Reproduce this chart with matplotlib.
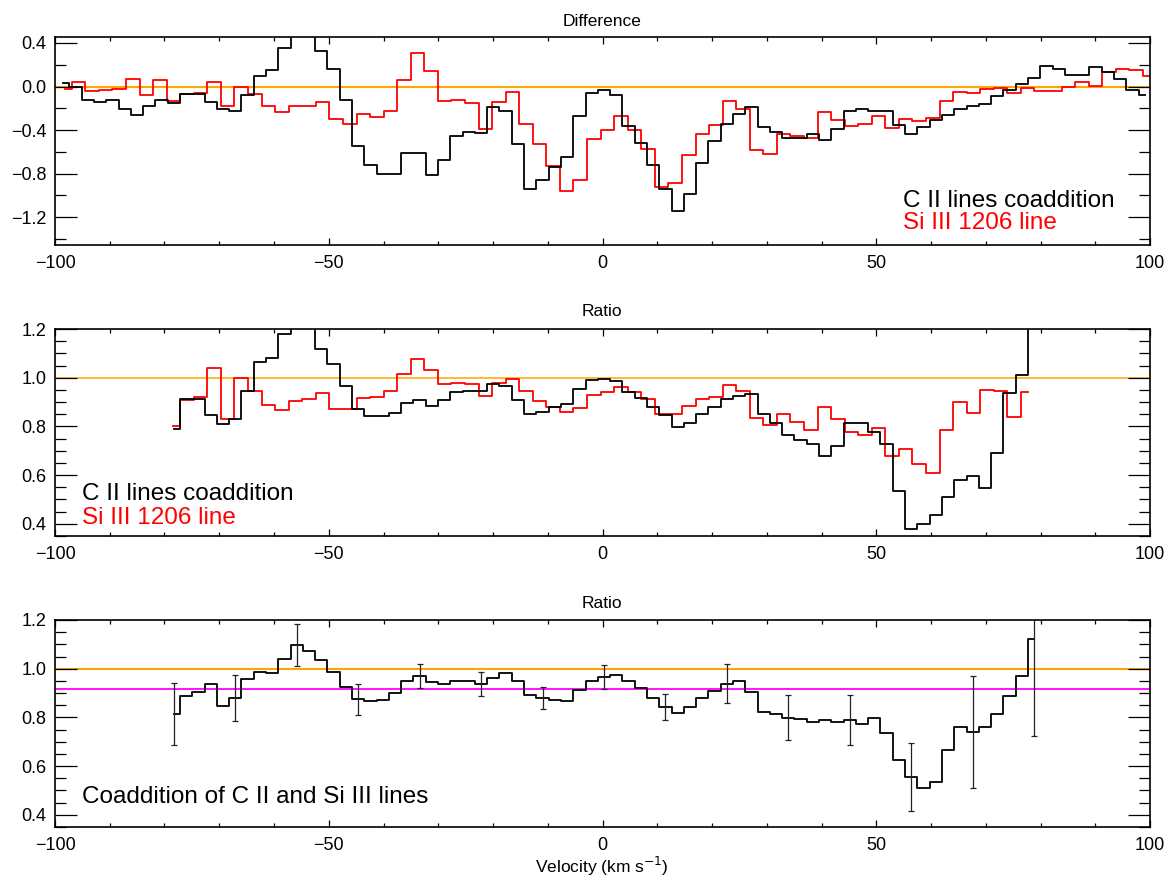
import numpy as np
import matplotlib
matplotlib.use('Agg')
import matplotlib.pyplot as plt
from matplotlib.ticker import MultipleLocator, FuncFormatter

plt.rcParams['font.family'] = ['Liberation Sans', 'DejaVu Sans']

# ---------------- data ----------------
# velocity grids (bin centres, km/s)
V0_CII, DV_CII = -98.50, 2.2447
V0_SI, DV_SI = -98.18, 2.4767

diff_cii = [0.03, 0.0, -0.12, -0.14, -0.12, -0.21, -0.26, -0.18, -0.12, -0.15,
            -0.07, -0.07, -0.14, -0.21, -0.22, -0.08, 0.10, 0.15, 0.35, 0.55,
            0.55, 0.33, 0.16, -0.12, -0.55, -0.72, -0.80, -0.80, -0.61, -0.61,
            -0.81, -0.67, -0.45, -0.42, -0.43, -0.19, -0.22, -0.53, -0.94, -0.86,
            -0.74, -0.65, -0.27, -0.06, -0.03, -0.08, -0.36, -0.52, -0.72, -0.94,
            -1.14, -0.99, -0.70, -0.50, -0.34, -0.25, -0.19, -0.37, -0.42, -0.47,
            -0.47, -0.44, -0.49, -0.39, -0.22, -0.21, -0.22, -0.22, -0.35, -0.44,
            -0.37, -0.31, -0.26, -0.21, -0.18, -0.16, -0.09, -0.03, 0.02, 0.08,
            0.19, 0.16, 0.11, 0.11, 0.18, 0.13, 0.07, -0.03, -0.08]

diff_si = [-0.02, 0.04, -0.04, -0.03, -0.025, 0.07, -0.08, 0.06, -0.13, -0.07,
           -0.055, 0.04, -0.18, 0.0, -0.07, -0.18, -0.23, -0.18, -0.18, -0.14,
           -0.30, -0.34, -0.25, -0.28, -0.22, 0.06, 0.31, 0.14, -0.13, -0.12,
           -0.15, -0.39, -0.14, -0.05, -0.34, -0.53, -0.73, -0.96, -0.86, -0.48,
           -0.40, -0.27, -0.40, -0.57, -0.92, -0.89, -0.63, -0.44, -0.35, -0.13,
           -0.21, -0.58, -0.62, -0.44, -0.45, -0.47, -0.23, -0.31, -0.36, -0.34,
           -0.27, -0.38, -0.30, -0.32, -0.29, -0.13, -0.05, -0.06, -0.025, -0.015,
           -0.055, -0.015, -0.04, -0.04, 0.0, 0.04, 0.005, 0.13, 0.16, 0.15, 0.10]

RATIO_CII_START = 9
ratio_cii = [0.788, 0.913, 0.911, 0.847, 0.809, 0.829, 0.945, 1.066, 1.082, 1.179,
             1.30, 1.28, 1.117, 1.055, 0.966, 0.870, 0.844, 0.844, 0.857, 0.898,
             0.908, 0.884, 0.908, 0.940, 0.945, 0.945, 0.974, 0.967, 0.908, 0.851,
             0.861, 0.878, 0.891, 0.954, 0.990, 0.995, 0.988, 0.943, 0.915, 0.878,
             0.847, 0.799, 0.813, 0.851, 0.881, 0.913, 0.925, 0.933, 0.851, 0.813,
             0.765, 0.745, 0.727, 0.680, 0.720, 0.816, 0.816, 0.775, 0.727, 0.533,
             0.378, 0.400, 0.437, 0.510, 0.581, 0.598, 0.546, 0.690, 0.939, 1.011,
             1.35]

RATIO_SI_START = 8
ratio_si = [0.800, 0.908, 0.922, 1.038, 0.829, 1.000, 0.945, 0.888, 0.867, 0.904,
            0.911, 0.936, 0.870, 0.870, 0.915, 0.919, 0.945, 1.014, 1.075, 1.031,
            0.973, 0.977, 0.973, 0.925, 0.977, 0.993, 0.945, 0.906, 0.878, 0.861,
            0.874, 0.929, 0.943, 0.960, 0.943, 0.911, 0.850, 0.850, 0.884, 0.911,
            0.922, 0.970, 0.945, 0.833, 0.806, 0.850, 0.820, 0.786, 0.878, 0.829,
            0.775, 0.765, 0.795, 0.680, 0.708, 0.645, 0.608, 0.786, 0.899, 0.857,
            0.949, 0.945, 0.840, 0.943]

COADD_START = 9
coadd = [0.813, 0.888, 0.904, 0.939, 0.846, 0.880, 0.956, 0.986, 0.984, 1.038,
         1.098, 1.072, 1.037, 0.986, 0.925, 0.874, 0.866, 0.873, 0.900, 0.950,
         0.970, 0.945, 0.936, 0.950, 0.950, 0.936, 0.962, 0.982, 0.948, 0.891,
         0.880, 0.870, 0.868, 0.911, 0.948, 0.966, 0.975, 0.948, 0.921, 0.880,
         0.843, 0.820, 0.843, 0.881, 0.909, 0.939, 0.948, 0.904, 0.823, 0.813,
         0.799, 0.793, 0.780, 0.789, 0.780, 0.789, 0.772, 0.798, 0.737, 0.625,
         0.554, 0.512, 0.536, 0.668, 0.759, 0.739, 0.761, 0.812, 0.887, 0.970,
         1.123]
ERR_EVERY = 5
coadd_err = [0.127, 0.095, 0.087, 0.064, 0.049, 0.049, 0.046, 0.051, 0.054, 0.080,
             0.091, 0.103, 0.139, 0.229, 0.40]
MEAN_RATIO = 0.918

# ---------------- figure ----------------
W, H = 1168, 877
fig = plt.figure(figsize=(W / 100, H / 100), dpi=100)


def rect(top, bottom, left=55, right=1150):
    return [left / W, 1 - bottom / H, (right - left) / W, (bottom - top) / H]


def grid(v0, dv, start, n):
    return v0 + dv * (start + np.arange(n))


fmt1 = FuncFormatter(lambda v, p: ('%.1f' % v).replace('-', '\u2212'))
fmt0 = FuncFormatter(lambda v, p: ('%d' % round(v)).replace('-', '\u2212'))


def style(ax, ymajor, yminor):
    ax.set_xlim(-100, 100)
    ax.xaxis.set_major_locator(MultipleLocator(50))
    ax.xaxis.set_minor_locator(MultipleLocator(10))
    ax.yaxis.set_major_locator(MultipleLocator(ymajor))
    ax.yaxis.set_minor_locator(MultipleLocator(yminor))
    ax.xaxis.set_major_formatter(fmt0)
    ax.yaxis.set_major_formatter(fmt1)
    ax.tick_params(axis='both', which='both', direction='in', top=True, right=True,
                   labelsize=13, width=0.9, colors='black')
    ax.tick_params(axis='y', which='major', length=16, pad=6)
    ax.tick_params(axis='y', which='minor', length=8)
    ax.tick_params(axis='x', which='major', length=5, pad=7)
    ax.tick_params(axis='x', which='minor', length=3)
    for s in ax.spines.values():
        s.set_linewidth(1.2)


ORANGE = '#FFA500'
RED = '#FF0000'
LW = 1.3

# Top: difference
ax1 = fig.add_axes(rect(37, 245))
ax1.axhline(0.0, color=ORANGE, lw=1.5, zorder=1)
ax1.step(grid(V0_CII, DV_CII, 0, len(diff_cii)), diff_cii, where='mid', color='black', lw=LW, zorder=3)
ax1.step(grid(V0_SI, DV_SI, 0, len(diff_si)), diff_si, where='mid', color=RED, lw=LW, zorder=2)
ax1.set_ylim(-1.455, 0.455)
style(ax1, 0.4, 0.2)

# Middle: ratio
ax2 = fig.add_axes(rect(329, 536))
ax2.axhline(1.0, color=ORANGE, lw=1.1, zorder=1)
ax2.step(grid(V0_CII, DV_CII, RATIO_CII_START, len(ratio_cii)), ratio_cii, where='mid', color='black', lw=LW, zorder=3)
ax2.step(grid(V0_SI, DV_SI, RATIO_SI_START, len(ratio_si)), ratio_si, where='mid', color=RED, lw=LW, zorder=2)
ax2.set_ylim(0.35, 1.2)
style(ax2, 0.2, 0.05)

# Bottom: coadded ratio
ax3 = fig.add_axes(rect(620, 827))
ax3.axhline(1.0, color=ORANGE, lw=1.5, zorder=1)
ax3.axhline(MEAN_RATIO, color='#FF00FF', lw=1.3, zorder=1)
vc = grid(V0_CII, DV_CII, COADD_START, len(coadd))
ax3.step(vc, coadd, where='mid', color='black', lw=LW, zorder=3)
ax3.errorbar(vc[::ERR_EVERY], np.array(coadd)[::ERR_EVERY], yerr=coadd_err, fmt='none',
             ecolor='#222222', elinewidth=0.9, capsize=2, capthick=0.9, zorder=4)
ax3.set_ylim(0.35, 1.2)
style(ax3, 0.2, 0.05)


def ftext(x, y, s, **kw):
    fig.text(x / W, 1 - y / H, s, **kw)


ftext(602, 21, 'Difference', ha='center', va='center', fontsize=12.5)
ftext(602, 312, 'Ratio', ha='center', va='center', fontsize=12.5)
ftext(602, 603, 'Ratio', ha='center', va='center', fontsize=12.5)
ftext(602, 866, 'Velocity (km s$^{\u2212 1}$)', ha='center', va='center', fontsize=12.5)

LEG = 17.5
ftext(903, 207, 'C II lines coaddition', ha='left', va='baseline', fontsize=LEG, color='black')
ftext(903, 229, 'Si III 1206 line', ha='left', va='baseline', fontsize=LEG, color=RED)
ftext(82, 500, 'C II lines coaddition', ha='left', va='baseline', fontsize=LEG, color='black')
ftext(82, 524, 'Si III 1206 line', ha='left', va='baseline', fontsize=LEG, color=RED)
ftext(82, 803, 'Coaddition of C II and Si III lines', ha='left', va='baseline', fontsize=LEG, color='black')

fig.savefig('out.png', dpi=100)
